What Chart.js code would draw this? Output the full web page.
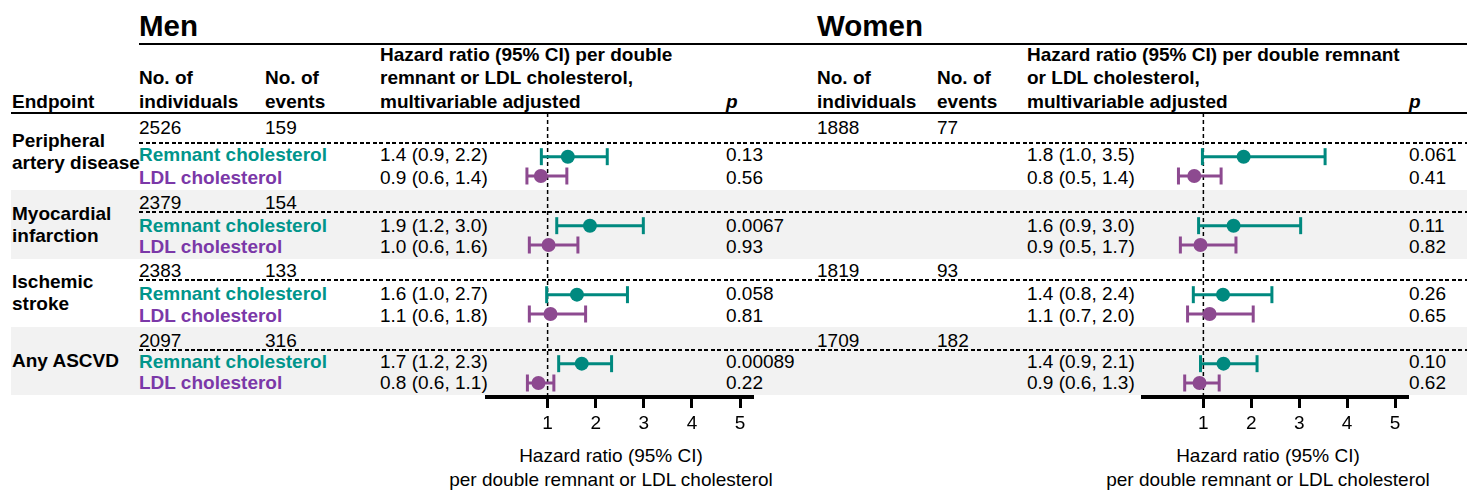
<!DOCTYPE html>
<html>
<head>
<meta charset="utf-8">
<script src="https://cdn.jsdelivr.net/npm/chart.js@4.4.1/dist/chart.umd.min.js"></script>
<style>
html, body { margin: 0; padding: 0; background: #fff; }
#page { position: relative; width: 1467px; height: 491px; overflow: hidden;
        font-family: "Liberation Sans", Arial, sans-serif; font-size: 19px; color: #000; }
.t { position: absolute; white-space: nowrap; line-height: 22px; height: 22px; }
.b { font-weight: bold; }
.band { position: absolute; background: #f2f2f2; }
.rule { position: absolute; background: #000; height: 2px; }
.dash { position: absolute; height: 2px;
        background: repeating-linear-gradient(to right, #000 0 4px, transparent 4px 6.5px); }
canvas { position: absolute; }
</style>
</head>
<body>
<div id="page"></div>
<script>
// endpoints and counts
const ENDPOINTS = [['Peripheral', 'artery disease'], ['Myocardial', 'infarction'], ['Ischemic', 'stroke'], ['Any ASCVD']];
const MEN_N = [2526, 2379, 2383, 2097];
const MEN_EVENTS = [159, 154, 133, 316];
const WOMEN_N = [1888, null, 1819, 1709];
const WOMEN_EVENTS = [77, null, 93, 182];

// men, hazard ratios per doubling
const MEN_REM_HR = [1.42, 1.88, 1.61, 1.71];
const MEN_REM_LO = [0.87, 1.19, 0.98, 1.23];
const MEN_REM_HI = [2.24, 2.99, 2.66, 2.33];
const MEN_LDL_HR = [0.86, 1.02, 1.06, 0.81];
const MEN_LDL_LO = [0.57, 0.62, 0.62, 0.58];
const MEN_LDL_HI = [1.40, 1.63, 1.79, 1.13];
const MEN_REM_TXT = ['1.4 (0.9, 2.2)', '1.9 (1.2, 3.0)', '1.6 (1.0, 2.7)', '1.7 (1.2, 2.3)'];
const MEN_LDL_TXT = ['0.9 (0.6, 1.4)', '1.0 (0.6, 1.6)', '1.1 (0.6, 1.8)', '0.8 (0.6, 1.1)'];
const MEN_REM_P = ['0.13', '0.0067', '0.058', '0.00089'];
const MEN_LDL_P = ['0.56', '0.93', '0.81', '0.22'];

// women
const WOMEN_REM_HR = [1.84, 1.63, 1.41, 1.42];
const WOMEN_REM_LO = [0.98, 0.90, 0.79, 0.94];
const WOMEN_REM_HI = [3.54, 3.03, 2.43, 2.12];
const WOMEN_LDL_HR = [0.81, 0.94, 1.13, 0.92];
const WOMEN_LDL_LO = [0.48, 0.52, 0.67, 0.61];
const WOMEN_LDL_HI = [1.37, 1.68, 2.04, 1.33];
const WOMEN_REM_TXT = ['1.8 (1.0, 3.5)', '1.6 (0.9, 3.0)', '1.4 (0.8, 2.4)', '1.4 (0.9, 2.1)'];
const WOMEN_LDL_TXT = ['0.8 (0.5, 1.4)', '0.9 (0.5, 1.7)', '1.1 (0.7, 2.0)', '0.9 (0.6, 1.3)'];
const WOMEN_REM_P = ['0.061', '0.11', '0.26', '0.10'];
const WOMEN_LDL_P = ['0.41', '0.82', '0.65', '0.62'];

const XTICKS = [1, 2, 3, 4, 5];
const REF_VALUE = 1;
const HR_HEADER_MEN = ['Hazard ratio (95% CI) per double', 'remnant or LDL cholesterol,', 'multivariable adjusted'];
const HR_HEADER_WOMEN = ['Hazard ratio (95% CI) per double remnant', 'or LDL cholesterol,', 'multivariable adjusted'];
const AXIS_TITLE = ['Hazard ratio (95% CI)', 'per double remnant or LDL cholesterol'];

const TEAL = '#00897f', PURPLE = '#8d4a90';
const TEAL_TXT = '#00958b', PURPLE_TXT = '#7b38a8';

// layout (page pixels)
const ROWS = [
  { top: 113, bottom: 190, n: 128, dash: 143, rem: 155, ldl: 178 },
  { top: 190, bottom: 259, n: 203, dash: 212, rem: 226, ldl: 247 },
  { top: 259, bottom: 327, n: 271, dash: 280, rem: 294, ldl: 316 },
  { top: 327, bottom: 395, n: 341, dash: 350, rem: 362, ldl: 383 }
];
const COL = { ep: 12, mN: 139, mE: 265, mHR: 380, mP: 726, wN: 817, wE: 937, wHR: 1027, wP: 1409 };

const page = document.getElementById('page');
function el(cls, style, text) {
  const d = document.createElement('div');
  d.className = cls;
  Object.assign(d.style, style);
  if (text != null) d.textContent = text;
  page.appendChild(d);
  return d;
}
function put(text, x, yc, extra) {
  if (text == null) return;
  return el('t', Object.assign({ left: x + 'px', top: (yc - 11) + 'px' }, extra || {}), String(text));
}

// gray bands
ROWS.forEach((r, i) => {
  if (i % 2 === 1) el('band', { left: '11px', top: r.top + 'px', width: '1456px', height: (r.bottom - r.top) + 'px' });
});
// rules
el('rule', { left: '139px', top: '43px', width: '1328px' });
el('rule', { left: '11px', top: '112px', width: '1456px' });
ROWS.forEach(r => el('dash', { left: '139px', top: (r.dash - 1) + 'px', width: '1328px' }));

// titles and headers
put('Men', 139, 26, { fontWeight: 'bold', fontSize: '29.5px', lineHeight: '22px' });
put('Women', 817, 26, { fontWeight: 'bold', fontSize: '29.5px', lineHeight: '22px' });
const HL = [55, 78, 101.5];
put('Endpoint', COL.ep, HL[2], { fontWeight: 'bold' });
[[COL.mN, COL.mE, COL.mHR, COL.mP, HR_HEADER_MEN], [COL.wN, COL.wE, COL.wHR, COL.wP, HR_HEADER_WOMEN]].forEach(c => {
  put('No. of', c[0], HL[1], { fontWeight: 'bold' });
  put('individuals', c[0], HL[2], { fontWeight: 'bold' });
  put('No. of', c[1], HL[1], { fontWeight: 'bold' });
  put('events', c[1], HL[2], { fontWeight: 'bold' });
  c[4].forEach((s, i) => put(s, c[2], HL[i], { fontWeight: 'bold' }));
  put('p', c[3], HL[2], { fontWeight: 'bold', fontStyle: 'italic' });
});

// table body
ROWS.forEach((r, i) => {
  const ep = ENDPOINTS[i];
  const mid = (r.top + r.bottom) / 2;
  ep.forEach((s, j) => put(s, COL.ep, mid + (j - (ep.length - 1) / 2) * 22, { fontWeight: 'bold' }));
  put(MEN_N[i], COL.mN, r.n);
  put(MEN_EVENTS[i], COL.mE, r.n);
  put(WOMEN_N[i], COL.wN, r.n);
  put(WOMEN_EVENTS[i], COL.wE, r.n);
  put('Remnant cholesterol', COL.mN, r.rem, { fontWeight: 'bold', color: TEAL_TXT });
  put('LDL cholesterol', COL.mN, r.ldl, { fontWeight: 'bold', color: PURPLE_TXT });
  put(MEN_REM_TXT[i], COL.mHR, r.rem);
  put(MEN_LDL_TXT[i], COL.mHR, r.ldl);
  put(MEN_REM_P[i], COL.mP, r.rem);
  put(MEN_LDL_P[i], COL.mP, r.ldl);
  put(WOMEN_REM_TXT[i], COL.wHR, r.rem);
  put(WOMEN_LDL_TXT[i], COL.wHR, r.ldl);
  put(WOMEN_REM_P[i], COL.wP, r.rem);
  put(WOMEN_LDL_P[i], COL.wP, r.ldl);
});

// axis titles
[611, 1268].forEach(cx => {
  AXIS_TITLE.forEach((s, i) => {
    const d = put(s, 0, 456 + i * 24);
    d.style.left = (cx - 300) + 'px';
    d.style.width = '600px';
    d.style.textAlign = 'center';
  });
});

// forest panels
const refLine = {
  id: 'refLine',
  beforeDatasetsDraw(chart) {
    const { ctx, chartArea, scales } = chart;
    const x = scales.x.getPixelForValue(REF_VALUE);
    ctx.save();
    ctx.strokeStyle = '#000';
    ctx.lineWidth = 1.5;
    ctx.setLineDash([4, 3]);
    ctx.beginPath();
    ctx.moveTo(x, chartArea.top);
    ctx.lineTo(x, chartArea.bottom);
    ctx.stroke();
    ctx.restore();
  }
};

const LDL_DODGE = 0.28;

function ciSets(hr, lo, hi, dy, color) {
  const sets = hr.map((v, k) => ({
    data: [{ x: lo[k], y: k + dy }, { x: hi[k], y: k + dy }],
    showLine: true,
    borderColor: color,
    borderWidth: 3,
    pointStyle: 'line',
    rotation: 90,
    pointRadius: 8.5,
    pointBorderWidth: 3,
    pointBorderColor: color,
    order: 2
  }));
  sets.push({
    data: hr.map((v, k) => ({ x: v, y: k + dy })),
    pointRadius: 7,
    pointBackgroundColor: color,
    pointBorderWidth: 0,
    order: 0
  });
  return sets;
}

function makePanel(left, padRight, rem, ldl) {
  const c = document.createElement('canvas');
  c.width = 300; c.height = 340;
  c.style.left = left + 'px';
  c.style.top = '100px';
  page.appendChild(c);
  new Chart(c, {
    type: 'scatter',
    data: {
      datasets: [
        ...ciSets(rem[0], rem[1], rem[2], 0, TEAL),
        ...ciSets(ldl[0], ldl[1], ldl[2], LDL_DODGE, PURPLE)
      ]
    },
    options: {
      responsive: false,
      animation: false,
      events: [],
      layout: { padding: { left: 17, right: padRight, top: 13, bottom: 3 } },
      plugins: { legend: { display: false }, tooltip: { enabled: false } },
      scales: {
        x: {
          type: 'linear', min: -0.26, max: 5.27,
          afterBuildTicks: s => { s.ticks = XTICKS.map(v => ({ value: v })); },
          afterFit: s => { s.height = 40; },
          border: { display: true, color: '#000', width: 4 },
          grid: { drawOnChartArea: false, drawTicks: true, tickLength: 11, tickWidth: 3, tickColor: '#000' },
          ticks: { color: '#000', padding: 4, font: { family: '"Liberation Sans", Arial, sans-serif', size: 19 } }
        },
        y: { type: 'linear', display: false, reverse: true, min: -0.633, max: 3.483 }
      }
    },
    plugins: [refLine]
  });
}

makePanel(470, 17, [MEN_REM_HR, MEN_REM_LO, MEN_REM_HI], [MEN_LDL_HR, MEN_LDL_LO, MEN_LDL_HI]);
makePanel(1126, 18, [WOMEN_REM_HR, WOMEN_REM_LO, WOMEN_REM_HI], [WOMEN_LDL_HR, WOMEN_LDL_LO, WOMEN_LDL_HI]);
</script>
</body>
</html>
